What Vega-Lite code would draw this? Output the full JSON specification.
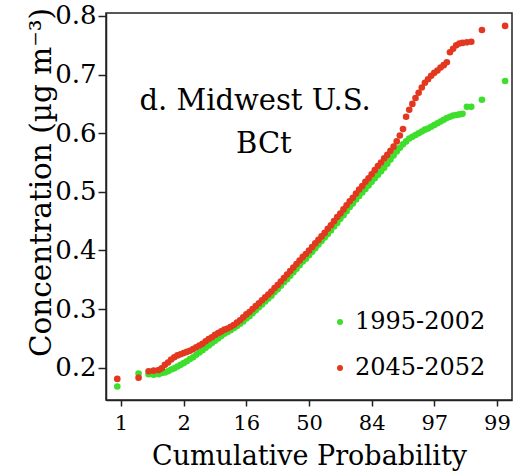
{
  "$schema": "https://vega.github.io/schema/vega-lite/v6.json",
  "width": 406,
  "height": 387,
  "autosize": {"type": "none"},
  "padding": {"left": 106, "top": 13, "right": 7, "bottom": 72},
  "background": "white",
  "config": {
    "font": "DejaVu Serif",
    "view": {"stroke": "#222222", "strokeWidth": 1.5},
    "axis": {"domainColor": "#222222", "domainWidth": 1.5, "tickColor": "#222222", "tickWidth": 1.5, "labelColor": "black", "titleColor": "black", "grid": false, "labelFont": "DejaVu Serif", "titleFont": "DejaVu Serif", "titleFontWeight": "normal"}
  },
  "encoding": {
    "x": {"field": "z", "type": "quantitative", "scale": {"domain": [-3.24, 3.24], "nice": false, "zero": false},
      "axis": {"values": [-3, -2, -1, 0, 1, 2, 3], "labelExpr": "['1','2','16','50','84','97','99'][datum.value + 3]", "tickSize": 6, "labelFontSize": 21, "labelPadding": 6, "labelFlush": false, "labelOverlap": false, "title": "Cumulative Probability", "titleFontSize": 27, "titleBaseline": "alphabetic", "titleY": 64}},
    "y": {"field": "conc", "type": "quantitative", "scale": {"domain": [0.145, 0.805], "nice": false, "zero": false},
      "axis": {"values": [0.2, 0.3, 0.4, 0.5, 0.6, 0.7, 0.8], "format": ".1f", "tickSize": 8, "labelFontSize": 26, "labelPadding": 2, "labelFlush": false, "labelOverlap": false, "title": "Concentration (µg m⁻³)", "titleFontSize": 29.5, "titleAngle": 270, "titleBaseline": "alphabetic", "titleAlign": "center", "titleX": -56, "titleY": 169}}
  },
  "layer": [
    {
      "data": {"values": [
        {"z": -3.06, "1995-2002": 0.168, "2045-2052": 0.181},
        {"z": -2.72, "1995-2002": 0.190, "2045-2052": 0.183},
        {"z": -2.56, "1995-2002": 0.189, "2045-2052": 0.194},
        {"z": -2.48, "1995-2002": 0.188, "2045-2052": 0.195},
        {"z": -2.40, "1995-2002": 0.189, "2045-2052": 0.196},
        {"z": -2.35, "1995-2002": 0.191, "2045-2052": 0.199},
        {"z": -2.30, "1995-2002": 0.192, "2045-2052": 0.205},
        {"z": -2.25, "1995-2002": 0.194, "2045-2052": 0.209},
        {"z": -2.20, "1995-2002": 0.197, "2045-2052": 0.214},
        {"z": -2.15, "1995-2002": 0.199, "2045-2052": 0.218},
        {"z": -2.10, "1995-2002": 0.202, "2045-2052": 0.221},
        {"z": -2.05, "1995-2002": 0.205, "2045-2052": 0.223},
        {"z": -2.00, "1995-2002": 0.208, "2045-2052": 0.225},
        {"z": -1.95, "1995-2002": 0.211, "2045-2052": 0.227},
        {"z": -1.90, "1995-2002": 0.215, "2045-2052": 0.229},
        {"z": -1.85, "1995-2002": 0.218, "2045-2052": 0.232},
        {"z": -1.80, "1995-2002": 0.222, "2045-2052": 0.235},
        {"z": -1.75, "1995-2002": 0.226, "2045-2052": 0.238},
        {"z": -1.70, "1995-2002": 0.230, "2045-2052": 0.241},
        {"z": -1.65, "1995-2002": 0.234, "2045-2052": 0.245},
        {"z": -1.60, "1995-2002": 0.238, "2045-2052": 0.249},
        {"z": -1.55, "1995-2002": 0.242, "2045-2052": 0.252},
        {"z": -1.50, "1995-2002": 0.246, "2045-2052": 0.256},
        {"z": -1.45, "1995-2002": 0.250, "2045-2052": 0.259},
        {"z": -1.40, "1995-2002": 0.254, "2045-2052": 0.262},
        {"z": -1.35, "1995-2002": 0.258, "2045-2052": 0.265},
        {"z": -1.30, "1995-2002": 0.261, "2045-2052": 0.267},
        {"z": -1.25, "1995-2002": 0.264, "2045-2052": 0.270},
        {"z": -1.20, "1995-2002": 0.268, "2045-2052": 0.273},
        {"z": -1.15, "1995-2002": 0.271, "2045-2052": 0.277},
        {"z": -1.10, "1995-2002": 0.275, "2045-2052": 0.281},
        {"z": -1.05, "1995-2002": 0.279, "2045-2052": 0.286},
        {"z": -1.00, "1995-2002": 0.284, "2045-2052": 0.291},
        {"z": -0.95, "1995-2002": 0.288, "2045-2052": 0.295},
        {"z": -0.90, "1995-2002": 0.293, "2045-2052": 0.300},
        {"z": -0.85, "1995-2002": 0.298, "2045-2052": 0.305},
        {"z": -0.80, "1995-2002": 0.303, "2045-2052": 0.310},
        {"z": -0.75, "1995-2002": 0.308, "2045-2052": 0.315},
        {"z": -0.70, "1995-2002": 0.313, "2045-2052": 0.320},
        {"z": -0.65, "1995-2002": 0.318, "2045-2052": 0.325},
        {"z": -0.60, "1995-2002": 0.323, "2045-2052": 0.330},
        {"z": -0.55, "1995-2002": 0.329, "2045-2052": 0.336},
        {"z": -0.50, "1995-2002": 0.334, "2045-2052": 0.341},
        {"z": -0.45, "1995-2002": 0.340, "2045-2052": 0.347},
        {"z": -0.40, "1995-2002": 0.346, "2045-2052": 0.353},
        {"z": -0.35, "1995-2002": 0.351, "2045-2052": 0.359},
        {"z": -0.30, "1995-2002": 0.357, "2045-2052": 0.365},
        {"z": -0.25, "1995-2002": 0.363, "2045-2052": 0.371},
        {"z": -0.20, "1995-2002": 0.369, "2045-2052": 0.377},
        {"z": -0.15, "1995-2002": 0.375, "2045-2052": 0.383},
        {"z": -0.10, "1995-2002": 0.381, "2045-2052": 0.389},
        {"z": -0.05, "1995-2002": 0.386, "2045-2052": 0.394},
        {"z": 0.00, "1995-2002": 0.392, "2045-2052": 0.400},
        {"z": 0.05, "1995-2002": 0.398, "2045-2052": 0.406},
        {"z": 0.10, "1995-2002": 0.404, "2045-2052": 0.412},
        {"z": 0.15, "1995-2002": 0.410, "2045-2052": 0.418},
        {"z": 0.20, "1995-2002": 0.416, "2045-2052": 0.424},
        {"z": 0.25, "1995-2002": 0.422, "2045-2052": 0.430},
        {"z": 0.30, "1995-2002": 0.428, "2045-2052": 0.437},
        {"z": 0.35, "1995-2002": 0.434, "2045-2052": 0.443},
        {"z": 0.40, "1995-2002": 0.441, "2045-2052": 0.450},
        {"z": 0.45, "1995-2002": 0.447, "2045-2052": 0.457},
        {"z": 0.50, "1995-2002": 0.454, "2045-2052": 0.463},
        {"z": 0.55, "1995-2002": 0.460, "2045-2052": 0.470},
        {"z": 0.60, "1995-2002": 0.467, "2045-2052": 0.477},
        {"z": 0.65, "1995-2002": 0.474, "2045-2052": 0.484},
        {"z": 0.70, "1995-2002": 0.480, "2045-2052": 0.490},
        {"z": 0.75, "1995-2002": 0.487, "2045-2052": 0.497},
        {"z": 0.80, "1995-2002": 0.493, "2045-2052": 0.504},
        {"z": 0.85, "1995-2002": 0.499, "2045-2052": 0.510},
        {"z": 0.90, "1995-2002": 0.505, "2045-2052": 0.517},
        {"z": 0.95, "1995-2002": 0.511, "2045-2052": 0.523},
        {"z": 1.00, "1995-2002": 0.517, "2045-2052": 0.530},
        {"z": 1.05, "1995-2002": 0.523, "2045-2052": 0.537},
        {"z": 1.10, "1995-2002": 0.529, "2045-2052": 0.544},
        {"z": 1.15, "1995-2002": 0.535, "2045-2052": 0.550},
        {"z": 1.20, "1995-2002": 0.541, "2045-2052": 0.557},
        {"z": 1.25, "1995-2002": 0.548, "2045-2052": 0.563},
        {"z": 1.30, "1995-2002": 0.555, "2045-2052": 0.570},
        {"z": 1.35, "1995-2002": 0.562, "2045-2052": 0.577},
        {"z": 1.40, "1995-2002": 0.569, "2045-2052": 0.586},
        {"z": 1.45, "1995-2002": 0.575, "2045-2052": 0.596},
        {"z": 1.50, "1995-2002": 0.581, "2045-2052": 0.607},
        {"z": 1.55, "1995-2002": 0.586, "2045-2052": 0.628},
        {"z": 1.60, "1995-2002": 0.591, "2045-2052": 0.640},
        {"z": 1.65, "1995-2002": 0.594, "2045-2052": 0.650},
        {"z": 1.70, "1995-2002": 0.597, "2045-2052": 0.660},
        {"z": 1.75, "1995-2002": 0.600, "2045-2052": 0.669},
        {"z": 1.80, "1995-2002": 0.603, "2045-2052": 0.678},
        {"z": 1.85, "1995-2002": 0.606, "2045-2052": 0.686},
        {"z": 1.90, "1995-2002": 0.608, "2045-2052": 0.692},
        {"z": 1.95, "1995-2002": 0.611, "2045-2052": 0.698},
        {"z": 2.00, "1995-2002": 0.614, "2045-2052": 0.703},
        {"z": 2.05, "1995-2002": 0.617, "2045-2052": 0.707},
        {"z": 2.10, "1995-2002": 0.620, "2045-2052": 0.712},
        {"z": 2.15, "1995-2002": 0.623, "2045-2052": 0.716},
        {"z": 2.20, "1995-2002": 0.626, "2045-2052": 0.721},
        {"z": 2.25, "1995-2002": 0.628, "2045-2052": 0.738},
        {"z": 2.30, "1995-2002": 0.630, "2045-2052": 0.744},
        {"z": 2.35, "1995-2002": 0.631, "2045-2052": 0.750},
        {"z": 2.40, "1995-2002": 0.632, "2045-2052": 0.753},
        {"z": 2.45, "1995-2002": 0.633, "2045-2052": 0.754},
        {"z": 2.52, "1995-2002": 0.645, "2045-2052": 0.755},
        {"z": 2.59, "1995-2002": 0.645, "2045-2052": 0.756},
        {"z": 2.76, "1995-2002": 0.657, "2045-2052": 0.776},
        {"z": 3.13, "1995-2002": 0.689, "2045-2052": 0.783}
      ]},
      "transform": [{"fold": ["1995-2002", "2045-2052"], "as": ["period", "conc"]}],
      "mark": {"type": "circle", "opacity": 1, "size": 44},
      "encoding": {
        "color": {"field": "period", "type": "nominal",
          "scale": {"domain": ["1995-2002", "2045-2052"], "range": ["#3ddf2c", "#e2381f"]},
          "legend": {"orient": "none", "legendX": 222, "legendY": 297, "title": null, "labelFontSize": 24, "labelFont": "DejaVu Serif", "labelColor": "black", "symbolSize": 36, "symbolType": "circle", "symbolStrokeWidth": 0, "labelOffset": 3, "rowPadding": 22, "padding": 0}},
        "order": {"field": "period", "sort": "ascending"}
      }
    },
    {
      "data": {"values": [
        {"z": -0.86, "conc": 0.640, "t": "d. Midwest U.S."},
        {"z": -0.72, "conc": 0.566, "t": "BCt"}
      ]},
      "mark": {"type": "text", "fontSize": 29, "font": "DejaVu Serif", "align": "center", "baseline": "alphabetic", "color": "black"},
      "encoding": {"text": {"field": "t", "type": "nominal"}}
    }
  ]
}
